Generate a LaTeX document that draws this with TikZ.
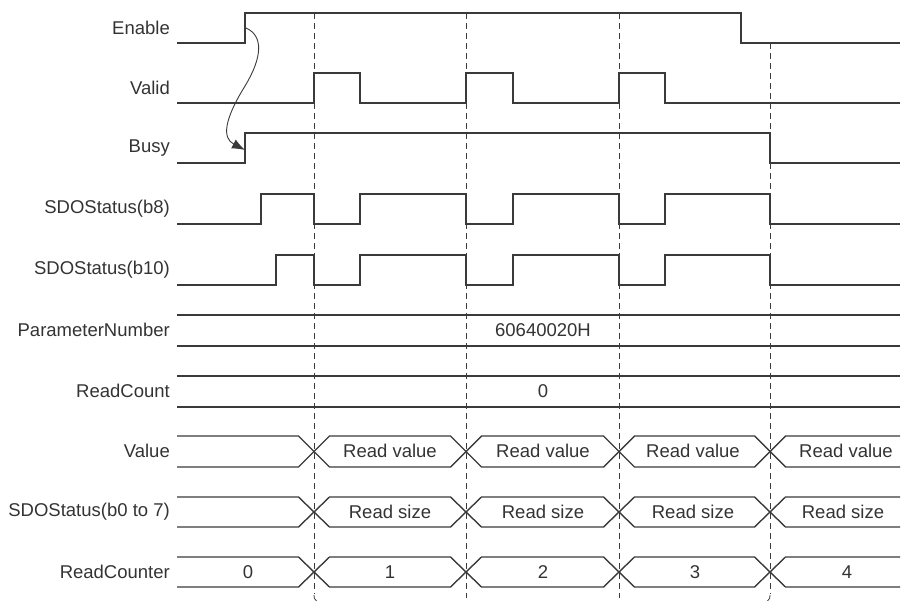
\documentclass[tikz,border=0pt]{standalone}
\usepackage{fontspec}
\setmainfont{Liberation Sans}
\usetikzlibrary{arrows.meta}
\definecolor{ln}{HTML}{3A3A3A}
\definecolor{tx}{HTML}{333333}
\tikzset{
  wave/.style={draw=ln, line width=1.4pt, line join=miter},
  guide/.style={draw=ln, line width=0.8pt, dash pattern=on 6pt off 4pt},
  lbl/.style={anchor=east, text=tx, font=\fontsize{18.5}{20}\selectfont, inner sep=0pt},
  val/.style={text=tx, font=\fontsize{18.5}{20}\selectfont, inner sep=0pt},
  cue/.style={draw=ln, line width=0.9pt, -{Latex[length=13pt,width=10pt]}}
}
\begin{document}
\begin{tikzpicture}[x=1pt,y=-1pt]
\useasboundingbox (0,0) rectangle (901,601);
% guide lines
\draw[guide] (314,13) -- (314,594);
\draw[guide] (466,13) -- (466,598);
\draw[guide] (619,13) -- (619,598);
\draw[guide] (770,43) -- (770,594);
\draw[draw=ln, line width=0.8pt] (314,595) .. controls (314,598) .. (316.5,601);
\draw[draw=ln, line width=0.8pt] (770,595) .. controls (770,598) .. (767.5,601);
% labels
\node[lbl] (lEnable) at (170,28) {Enable};
\node[lbl] (lValid) at (170,88) {Valid};
\node[lbl] (lBusy) at (170,148) {Busy};
\node[lbl] (lb8) at (170,209) {SDOStatus(b8)};
\node[lbl] (lb10) at (170,270) {SDOStatus(b10)};
\node[lbl] (lPN) at (170,330) {ParameterNumber};
\node[lbl] (lRC) at (170,391) {ReadCount};
\node[lbl] (lVal) at (170,451) {Value};
\node[lbl] (lSz) at (170,512) {SDOStatus(b0 to 7)};
\node[lbl] (lCnt) at (170,572) {ReadCounter};
% Enable
\draw[wave] (177,43) -- (245,43) -- (245,13) -- (741,13) -- (741,43) -- (900,43);
% Valid
\draw[wave] (177,103) -- (314,103) -- (314,73) -- (360,73) -- (360,103) -- (466,103) -- (466,73) -- (513,73) -- (513,103) -- (619,103) -- (619,73) -- (665,73) -- (665,103) -- (900,103);
% Busy
\draw[wave] (177,163) -- (245,163) -- (245,133) -- (770,133) -- (770,163) -- (900,163);
% SDOStatus(b8)
\draw[wave] (177,224) -- (261,224) -- (261,194) -- (314,194) -- (314,224) -- (360,224) -- (360,194) -- (466,194) -- (466,224) -- (513,224) -- (513,194) -- (619,194) -- (619,224) -- (665,224) -- (665,194) -- (770,194) -- (770,224) -- (900,224);
% SDOStatus(b10)
\draw[wave] (177,285) -- (276,285) -- (276,255) -- (314,255) -- (314,285) -- (360,285) -- (360,255) -- (466,255) -- (466,285) -- (513,285) -- (513,255) -- (619,255) -- (619,285) -- (665,285) -- (665,255) -- (770,255) -- (770,285) -- (900,285);
% ParameterNumber
\draw[wave] (177,315) -- (900,315);
\draw[wave] (177,346) -- (900,346);
\node[val] (tPN) at (543,330) {60640020H};
% ReadCount
\draw[wave] (177,376) -- (900,376);
\draw[wave] (177,407) -- (900,407);
\node[val] (tRC) at (543,391) {0};
% bus rows with crossings
\foreach \t/\b in {436/467, 497/527, 557/587}{
  \draw[wave] (177,\t) -- (298.5,\t) -- (329.5,\b) -- (450.5,\b) -- (481.5,\t) -- (603.5,\t) -- (634.5,\b) -- (754.5,\b) -- (785.5,\t) -- (900,\t);
  \draw[wave] (177,\b) -- (298.5,\b) -- (329.5,\t) -- (450.5,\t) -- (481.5,\b) -- (603.5,\b) -- (634.5,\t) -- (754.5,\t) -- (785.5,\b) -- (900,\b);
}
% Value texts
\node[val] (v1) at (390,451) {Read value};
\node[val] (v2) at (543,451) {Read value};
\node[val] (v3) at (693,451) {Read value};
\node[val] (v4) at (846,451) {Read value};
% Size texts
\node[val] (s1) at (390,512) {Read size};
\node[val] (s2) at (543,512) {Read size};
\node[val] (s3) at (693,512) {Read size};
\node[val] (s4) at (843,512) {Read size};
% Counter texts
\node[val] (c0) at (248,572) {0};
\node[val] (c1) at (390,572) {1};
\node[val] (c2) at (543,572) {2};
\node[val] (c3) at (695,572) {3};
\node[val] (c4) at (847,572) {4};
% cause arrow
\coordinate (aS) at (246,28);
\coordinate (aE) at (245,150);
\draw[cue] (aS) .. controls (264,36) and (262,58) .. (245,86) .. controls (224,120) and (222,138) .. (aE);
\end{tikzpicture}
\end{document}
